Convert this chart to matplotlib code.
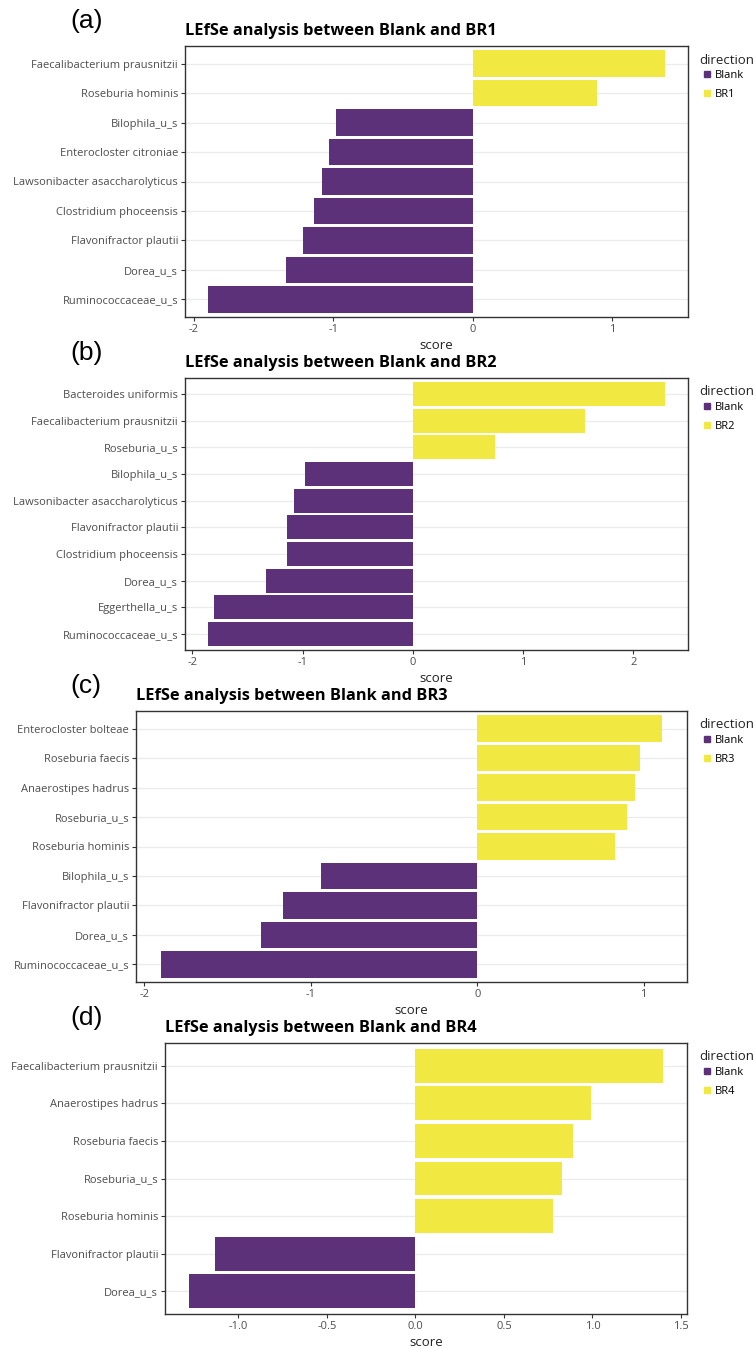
import matplotlib
matplotlib.use("Agg")
import matplotlib.pyplot as plt
from matplotlib.lines import Line2D

plt.rcParams['font.family'] = ['Open Sans', 'DejaVu Sans']

# panel (a): Blank vs BR1
taxa_a = ["Faecalibacterium prausnitzii", "Roseburia hominis", "Bilophila_u_s",
          "Enterocloster citroniae", "Lawsonibacter asaccharolyticus",
          "Clostridium phoceensis", "Flavonifractor plautii", "Dorea_u_s",
          "Ruminococcaceae_u_s"]
score_a = [1.38, 0.89, -0.98, -1.03, -1.08, -1.14, -1.22, -1.34, -1.90]

# panel (b): Blank vs BR2
taxa_b = ["Bacteroides uniformis", "Faecalibacterium prausnitzii", "Roseburia_u_s",
          "Bilophila_u_s", "Lawsonibacter asaccharolyticus", "Flavonifractor plautii",
          "Clostridium phoceensis", "Dorea_u_s", "Eggerthella_u_s",
          "Ruminococcaceae_u_s"]
score_b = [2.29, 1.56, 0.75, -0.98, -1.08, -1.14, -1.14, -1.33, -1.80, -1.86]

# panel (c): Blank vs BR3
taxa_c = ["Enterocloster bolteae", "Roseburia faecis", "Anaerostipes hadrus",
          "Roseburia_u_s", "Roseburia hominis", "Bilophila_u_s",
          "Flavonifractor plautii", "Dorea_u_s", "Ruminococcaceae_u_s"]
score_c = [1.11, 0.98, 0.95, 0.90, 0.83, -0.94, -1.17, -1.30, -1.90]

# panel (d): Blank vs BR4
taxa_d = ["Faecalibacterium prausnitzii", "Anaerostipes hadrus", "Roseburia faecis",
          "Roseburia_u_s", "Roseburia hominis", "Flavonifractor plautii", "Dorea_u_s"]
score_d = [1.40, 0.99, 0.89, 0.83, 0.78, -1.13, -1.28]

groups = ["BR1", "BR2", "BR3", "BR4"]
letters = ["(a)", "(b)", "(c)", "(d)"]

col_blank = "#5C3179"
col_br = "#F1E842"

W, H = 756, 1349
# axes boxes in pixels: left, top, right, bottom
boxes = [(185, 46, 688, 317), (185, 378, 688, 650),
         (136, 711, 687, 982), (165, 1043, 687, 1314)]

fig = plt.figure(figsize=(W / 100, H / 100), dpi=100)

panels = [(taxa_a, score_a), (taxa_b, score_b), (taxa_c, score_c), (taxa_d, score_d)]
for i, (taxa, score) in enumerate(panels):
    l, t, r, b = boxes[i]
    ax = fig.add_axes([l / W, 1 - b / H, (r - l) / W, (b - t) / H])
    n = len(taxa)
    ypos = list(range(n))[::-1]
    colors = [col_br if s > 0 else col_blank for s in score]
    ax.set_axisbelow(True)
    ax.barh(ypos, score, height=0.9, color=colors, edgecolor='none')
    ax.set_ylim(-0.6, n - 0.4)
    # ggplot style 5% expansion
    lo, hi = min(min(score), 0), max(max(score), 0)
    pad = (hi - lo) * 0.05
    ax.set_xlim(lo - pad, hi + pad)
    if i == 3:
        ax.set_xticks([-1.0, -0.5, 0.0, 0.5, 1.0, 1.5])
        ax.set_xticklabels(["-1.0", "-0.5", "0.0", "0.5", "1.0", "1.5"])
    else:
        ticks = [v for v in range(-2, 3) if lo - pad <= v <= hi + pad]
        ax.set_xticks(ticks)
        ax.set_xticklabels([str(v) for v in ticks])
    ax.set_yticks(ypos)
    ax.set_yticklabels(taxa)
    ax.yaxis.grid(True, color="#EBEBEB", linewidth=0.9)
    ax.xaxis.grid(False)
    for sp in ax.spines.values():
        sp.set_color("#333333")
        sp.set_linewidth(1.0)
    ax.tick_params(axis='both', length=3, width=0.8, color="#333333",
                   labelsize=8, labelcolor="#4D4D4D", pad=2)
    ax.set_xlabel("score", fontsize=9.5, color="#222222", labelpad=3)
    ax.set_title("LEfSe analysis between Blank and " + groups[i], loc='left',
                 fontsize=11.8, fontweight='bold', pad=8)

    # legend: title and entries placed separately
    fig.text(699 / W, 1 - (t + 14) / H, "direction", fontsize=9.5,
             color="#222222", va='center', ha='left')
    handles = [Line2D([], [], marker='s', linestyle='none', markersize=4.2,
                      color=col_blank),
               Line2D([], [], marker='s', linestyle='none', markersize=4.2,
                      color=col_br)]
    ax.legend(handles, ["Blank", groups[i]], loc='upper left',
              bbox_to_anchor=(704 / W, 1 - (t + 24) / H),
              bbox_transform=fig.transFigure, frameon=False, fontsize=8,
              handlelength=0.6, handletextpad=0.4, labelspacing=0.75,
              borderaxespad=0, borderpad=0)

    fig.text(70 / W, 1 - (t - 25) / H, letters[i], fontsize=19,
             family=['Liberation Sans', 'DejaVu Sans'], va='center', ha='left')

fig.savefig("out.png", dpi=100)
